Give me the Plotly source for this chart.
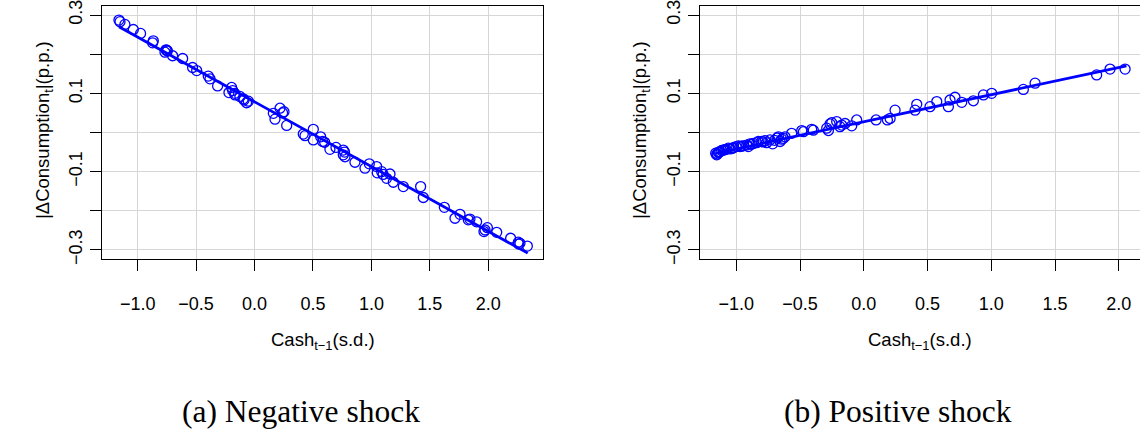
import plotly.graph_objects as go

# ---------------- data ----------------
neg_x = [-1.160, -1.151, -1.109, -1.037, -0.975, -0.866, -0.872, -0.758, -0.766, -0.746,
         -0.750, -0.701, -0.615, -0.530, -0.495, -0.396, -0.381, -0.316, -0.196, -0.187,
         -0.219, -0.167, -0.170, -0.125, -0.096, -0.090, -0.068, -0.053, 0.161, 0.175,
         0.218, 0.240, 0.252, 0.275, 0.417, 0.432, 0.503, 0.503, 0.566, 0.583,
         0.600, 0.645, 0.697, 0.759, 0.759, 0.770, 0.774, 0.859, 0.945, 0.982,
         1.045, 1.050, 1.088, 1.100, 1.130, 1.159, 1.187, 1.273, 1.421, 1.444,
         1.624, 1.715, 1.758, 1.829, 1.843, 1.900, 1.963, 1.972, 1.992, 2.072,
         2.191, 2.257, 2.260, 2.271, 2.334]
neg_y = [0.287, 0.283, 0.276, 0.263, 0.253, 0.234, 0.229, 0.211, 0.205, 0.208,
         0.210, 0.196, 0.189, 0.166, 0.158, 0.144, 0.137, 0.119, 0.115, 0.107,
         0.102, 0.096, 0.100, 0.092, 0.086, 0.083, 0.076, 0.080, 0.049, 0.034,
         0.062, 0.050, 0.053, 0.018, -0.004, -0.008, 0.008, -0.019, -0.011, -0.023,
         -0.025, -0.043, -0.038, -0.045, -0.057, -0.050, -0.062, -0.076, -0.091, -0.080,
         -0.087, -0.103, -0.100, -0.107, -0.117, -0.106, -0.127, -0.138, -0.138, -0.166,
         -0.191, -0.219, -0.209, -0.223, -0.221, -0.228, -0.253, -0.249, -0.243, -0.255,
         -0.270, -0.280, -0.285, -0.283, -0.290]
neg_fit_x = [-1.16, 2.337]
neg_fit_y = [0.270, -0.308]

pos_x = [-1.162, -1.154, -1.150, -1.141, -1.135, -1.128, -1.115, -1.102, -1.090, -1.081,
         -1.063, -1.049, -1.030, -1.023, -1.002, -0.984, -0.971, -0.960, -0.945, -0.919,
         -0.906, -0.893, -0.880, -0.866, -0.840, -0.827, -0.801, -0.790, -0.775, -0.762,
         -0.736, -0.715, -0.700, -0.680, -0.670, -0.657, -0.644, -0.631, -0.618, -0.566,
         -0.487, -0.474, -0.409, -0.396, -0.291, -0.278, -0.265, -0.252, -0.213, -0.187,
         -0.174, -0.147, -0.095, -0.056, 0.096, 0.185, 0.206, 0.245, 0.402, 0.415,
         0.519, 0.572, 0.663, 0.676, 0.715, 0.768, 0.859, 0.938, 1.003, 1.251,
         1.343, 1.826, 1.931, 2.049]
pos_y = [-0.053, -0.057, -0.055, -0.051, -0.050, -0.049, -0.046, -0.045, -0.044, -0.043,
         -0.040, -0.042, -0.040, -0.039, -0.036, -0.034, -0.036, -0.035, -0.034, -0.032,
         -0.036, -0.029, -0.030, -0.028, -0.026, -0.023, -0.023, -0.024, -0.021, -0.026,
         -0.019, -0.029, -0.020, -0.014, -0.011, -0.023, -0.017, -0.015, -0.011, -0.002,
         0.005, 0.002, 0.008, 0.006, 0.011, 0.005, 0.022, 0.025, 0.028, 0.015,
         0.019, 0.023, 0.017, 0.032, 0.032, 0.032, 0.036, 0.057, 0.057, 0.072,
         0.066, 0.079, 0.066, 0.083, 0.090, 0.077, 0.081, 0.096, 0.100, 0.110,
         0.126, 0.147, 0.162, 0.162]
pos_fit_x = [-1.16, 2.06]
pos_fit_y = [-0.053, 0.170]

x_tickvals = [-1.0, -0.5, 0.0, 0.5, 1.0, 1.5, 2.0]
x_ticktext = ["\u22121.0", "\u22120.5", "0.0", "0.5", "1.0", "1.5", "2.0"]
y_tickvals = [-0.3, -0.1, 0.1, 0.3]
y_ticktext = ["\u22120.3", "\u22120.1", "0.1", "0.3"]
y_minorvals = [-0.2, 0.0, 0.2]

x_title = "Cash<sub>t\u22121</sub>(s.d.)"
y_title = "|\u0394Consumption<sub>t</sub>|(p.p.)"
captions = ["(a) Negative shock", "(b) Positive shock"]

# ---------------- figure ----------------
W, H = 1140, 430
BLUE = "#0000FF"
GRID = "#d6d6d6"
SANS = "Liberation Sans, Arial, Helvetica, sans-serif"
SERIF = "Liberation Serif, Times New Roman, serif"

def px(v):
    return v / W

def py(v):
    return 1 - v / H

fig = go.Figure()

panels = [
    (neg_x, neg_y, neg_fit_x, neg_fit_y, "x", "y"),
    (pos_x, pos_y, pos_fit_x, pos_fit_y, "x2", "y2"),
]
for xs, ys, fx, fy, xa, ya in panels:
    fig.add_trace(go.Scatter(x=xs, y=ys, mode="markers", xaxis=xa, yaxis=ya,
                             marker=dict(symbol="circle-open", size=10, color=BLUE,
                                         line=dict(width=1.3, color=BLUE)),
                             showlegend=False, hoverinfo="skip"))
    fig.add_trace(go.Scatter(x=fx, y=fy, mode="lines", xaxis=xa, yaxis=ya,
                             line=dict(color=BLUE, width=2.7),
                             showlegend=False, hoverinfo="skip"))

common_x = dict(tickmode="array", tickvals=x_tickvals, ticktext=x_ticktext,
                ticks="outside", ticklen=11, tickwidth=1, tickcolor="black",
                showline=True, linecolor="black", linewidth=1, mirror=True,
                showgrid=True, gridcolor=GRID, gridwidth=1, zeroline=False,
                tickfont=dict(family=SANS, size=18, color="black"),
                ticklabelstandoff=17, ticklabeloverflow="allow")
common_y = dict(tickmode="array", tickvals=y_tickvals, ticktext=y_ticktext,
                ticks="outside", ticklen=11, tickwidth=1, tickcolor="black",
                minor=dict(tickmode="array", tickvals=y_minorvals, ticks="outside",
                           ticklen=11, tickwidth=1, tickcolor="black",
                           showgrid=True, gridcolor=GRID, gridwidth=1),
                showline=True, linecolor="black", linewidth=1, mirror=True,
                showgrid=True, gridcolor=GRID, gridwidth=1, zeroline=False,
                tickangle=-90, range=[-0.323, 0.323],
                tickfont=dict(family=SANS, size=18, color="black"),
                ticklabelstandoff=1, ticklabeloverflow="allow")

ydom = [py(259), py(6)]
fig.update_layout(
    width=W, height=H,
    margin=dict(l=0, r=0, t=0, b=0, autoexpand=False),
    paper_bgcolor="white", plot_bgcolor="white",
    xaxis=dict(domain=[px(102), px(543)], range=[-1.305, 2.468], anchor="y", **common_x),
    yaxis=dict(domain=ydom, anchor="x", **common_y),
    xaxis2=dict(domain=[px(700), 1.0], range=[-1.285, 2.166], anchor="y2", **common_x),
    yaxis2=dict(domain=ydom, anchor="x2", **common_y),
)

annos = []
for cx_plot, cx_ytitle, cx_cap, cap in [(322.5, 44, 301, captions[0]), (920, 641, 898, captions[1])]:
    annos.append(dict(text=x_title, x=px(cx_plot), y=py(341), xref="paper", yref="paper",
                      xanchor="center", yanchor="middle", showarrow=False,
                      font=dict(family=SANS, size=18.5, color="black")))
    annos.append(dict(text=y_title, x=px(cx_ytitle), y=py(130), xref="paper", yref="paper",
                      xanchor="center", yanchor="middle", showarrow=False, textangle=-90,
                      font=dict(family=SANS, size=18.5, color="black")))
    annos.append(dict(text=cap, x=px(cx_cap), y=py(411), xref="paper", yref="paper",
                      xanchor="center", yanchor="middle", showarrow=False,
                      font=dict(family=SERIF, size=31.5, color="black")))
fig.update_layout(annotations=annos)

fig.write_html("out.html", config={"displayModeBar": False},
               post_script="document.body.style.margin='0';document.body.style.overflow='hidden';")
